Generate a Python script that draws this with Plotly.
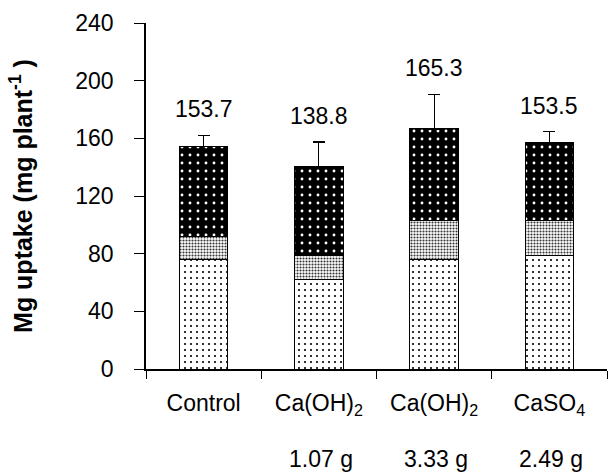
import plotly.graph_objects as go

# ---- data ----
cat_ids = ["Control", "Ca(OH)2 1.07 g", "Ca(OH)2 3.33 g", "CaSO4 2.49 g"]
tick_labels = ["Control", "Ca(OH)<sub>2</sub>", "Ca(OH)<sub>2</sub>", "CaSO<sub>4</sub>"]
dose_labels = ["", "1.07 g", "3.33 g", "2.49 g"]
bottom_vals = [76, 62, 76, 78.5]
middle_vals = [16, 16.5, 27, 24.5]
top_vals = [62.5, 62, 63.5, 54]
err_up = [7.5, 17, 24, 7.5]
total_labels = ["153.7", "138.8", "165.3", "153.5"]
y_ticks = [0, 40, 80, 120, 160, 200, 240]

FONT = "Liberation Sans, Arial, sans-serif"
FS = 23

fig = go.Figure()
line = dict(color="black", width=1)
fig.add_bar(x=cat_ids, y=bottom_vals, width=0.42,
            marker=dict(color="white", line=line,
                        pattern=dict(shape=".", fgcolor="black", bgcolor="white",
                                     size=6, solidity=0.1, fillmode="replace")))
fig.add_bar(x=cat_ids, y=middle_vals, width=0.42,
            marker=dict(color="white", line=line,
                        pattern=dict(shape=".", fgcolor="#333333", bgcolor="white",
                                     size=3, solidity=0.4, fillmode="replace")))
fig.add_bar(x=cat_ids, y=top_vals, width=0.42,
            marker=dict(color="black", line=line,
                        pattern=dict(shape=".", fgcolor="white", bgcolor="black",
                                     size=8, solidity=0.1, fillmode="replace")),
            error_y=dict(type="data", array=err_up, arrayminus=[0] * 4,
                         symmetric=False, color="black", thickness=1.2, width=6))

for i, c in enumerate(cat_ids):
    tot = bottom_vals[i] + middle_vals[i] + top_vals[i] + err_up[i]
    fig.add_annotation(x=c, y=tot, text=total_labels[i], showarrow=False,
                       yanchor="middle", yshift=26,
                       font=dict(family=FONT, size=FS, color="black"))
    if dose_labels[i]:
        fig.add_annotation(x=c, xref="x", y=-0.26, yref="paper", text=dose_labels[i],
                           showarrow=False, yanchor="middle", xshift=2,
                           font=dict(family=FONT, size=FS, color="black"))

fig.update_layout(
    barmode="stack",
    width=613, height=474,
    margin=dict(l=146, r=6, t=23, b=105),
    paper_bgcolor="white", plot_bgcolor="white",
    showlegend=False,
    font=dict(family=FONT, size=FS, color="black"),
    xaxis=dict(type="category", tickmode="array", tickvals=cat_ids, ticktext=tick_labels,
               tickson="boundaries", ticks="outside", ticklen=8, tickwidth=1.2,
               tickcolor="black", showline=True, linecolor="black", linewidth=1.5,
               showgrid=False, range=[-0.5, 3.5], ticklabelstandoff=13,
               tickfont=dict(family=FONT, size=FS)),
    yaxis=dict(range=[0, 240], tickvals=y_ticks, ticks="outside", ticklen=10,
               tickwidth=1.2, tickcolor="black", showline=True, linecolor="black",
               linewidth=1.5, showgrid=False, zeroline=False, ticklabelstandoff=16,
               tickfont=dict(family=FONT, size=FS),
               title=dict(text="<b>Mg uptake (mg plant<sup>-1</sup> )</b>",
                          font=dict(family=FONT, size=25), standoff=36)),
)

fig.write_html("out.html")
